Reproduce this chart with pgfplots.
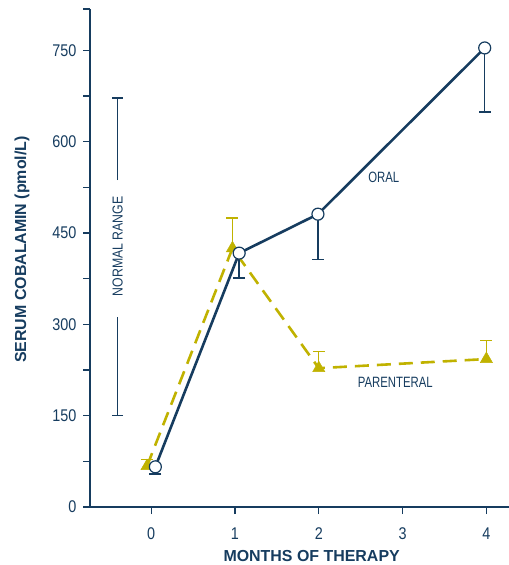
\documentclass[border=0pt]{standalone}
\usepackage{pgfplots}
\pgfplotsset{compat=1.18}
\usepackage{fontspec}
\setmainfont{Liberation Sans}
\newfontfamily\condensed[FakeStretch=0.85]{Liberation Sans}
\newfontfamily\narrow[FakeStretch=0.76]{Liberation Sans}
\definecolor{navy}{RGB}{22,60,95}
\definecolor{olive}{RGB}{192,178,0}

\begin{document}
\begin{tikzpicture}[x=1bp,y=1bp]
\useasboundingbox (0,0) rectangle (509,565);
\begin{axis}[
   at={(90bp,58bp)}, anchor=south west,
   scale only axis, width=419bp, height=498bp,
   xmin=-0.73, xmax=4.27, ymin=0, ymax=818,
   axis x line*=bottom, axis y line*=left,
   axis line style={navy, line width=1.2bp, -},
   xtick={0,1,2,3,4},
   ytick={0,150,300,450,600,750},
   minor ytick={75,225,375,525,675,818},
   tick align=outside,
   major tick length=7bp, minor tick length=7bp,
   tick style={navy, line width=1.2bp},
   /pgf/number format/assume math mode=true,
   ticklabel style={font=\condensed\fontsize{17}{17}\selectfont, text=navy},
   xticklabel style={yshift=-10bp},
   yticklabel style={xshift=-3bp},
   xlabel={MONTHS OF THERAPY},
   ylabel={SERUM COBALAMIN (pmol/L)},
   label style={font=\bfseries\fontsize{16}{16}\selectfont, text=navy},
   xlabel style={at={(axis description cs:0.529,-0.098)}, anchor=center},
   ylabel style={at={(axis description cs:-0.162,0.517)}, anchor=center, rotate=0},
   clip=false,
]
% normal range bar
\addplot[navy, line width=1.5bp, no marks,
   error bars/.cd, y dir=both, y explicit,
   error bar style={line width=1.5bp}, error mark options={rotate=90, line width=1.5bp, mark size=5.5bp}]
   coordinates {(-0.40,312) -= (0,162)};
\addplot[navy, line width=1.5bp, no marks,
   error bars/.cd, y dir=both, y explicit,
   error bar style={line width=1.5bp}, error mark options={rotate=90, line width=1.5bp, mark size=5.5bp}]
   coordinates {(-0.40,537) += (0,135)};
\node[rotate=90, text=navy, font=\condensed\fontsize{14.5}{14.5}\selectfont] at (axis cs:-0.40,428) {NORMAL RANGE};

% parenteral
\addplot[olive, line width=2.6bp, dash pattern=on 14bp off 8bp,
   mark=triangle*, mark size=7bp, mark options={solid, fill=olive, draw=olive, line width=0.5bp},
   error bars/.cd, y dir=plus, y explicit,
   error bar style={solid, line width=1.4bp, olive}, error mark options={rotate=90, solid, line width=1.4bp, mark size=6bp, olive}]
   coordinates {
   (-0.05,67) += (0,11)
   (0.97,425) += (0,50)
   (2.00,228) += (0,27)
   (4.00,243) += (0,30)
   };
% oral
\addplot[navy, line width=2.6bp,
   mark=*, mark size=6bp, mark options={fill=white, draw=navy, line width=1.2bp},
   error bars/.cd, y dir=minus, y explicit,
   error bar style={line width=1.4bp, navy}, error mark options={rotate=90, line width=1.4bp, mark size=6bp, navy}]
   coordinates {
   (0.05,66) -= (0,12)
   (1.05,417) -= (0,41)
   (1.99,481) -= (0,74)
   (3.98,754) -= (0,105)
   };
\node[text=navy, font=\narrow\fontsize{15}{15}\selectfont] at (axis cs:2.776,541) {ORAL};
\node[text=navy, font=\narrow\fontsize{15}{15}\selectfont] at (axis cs:2.913,205) {PARENTERAL};
\end{axis}
\end{tikzpicture}
\end{document}
